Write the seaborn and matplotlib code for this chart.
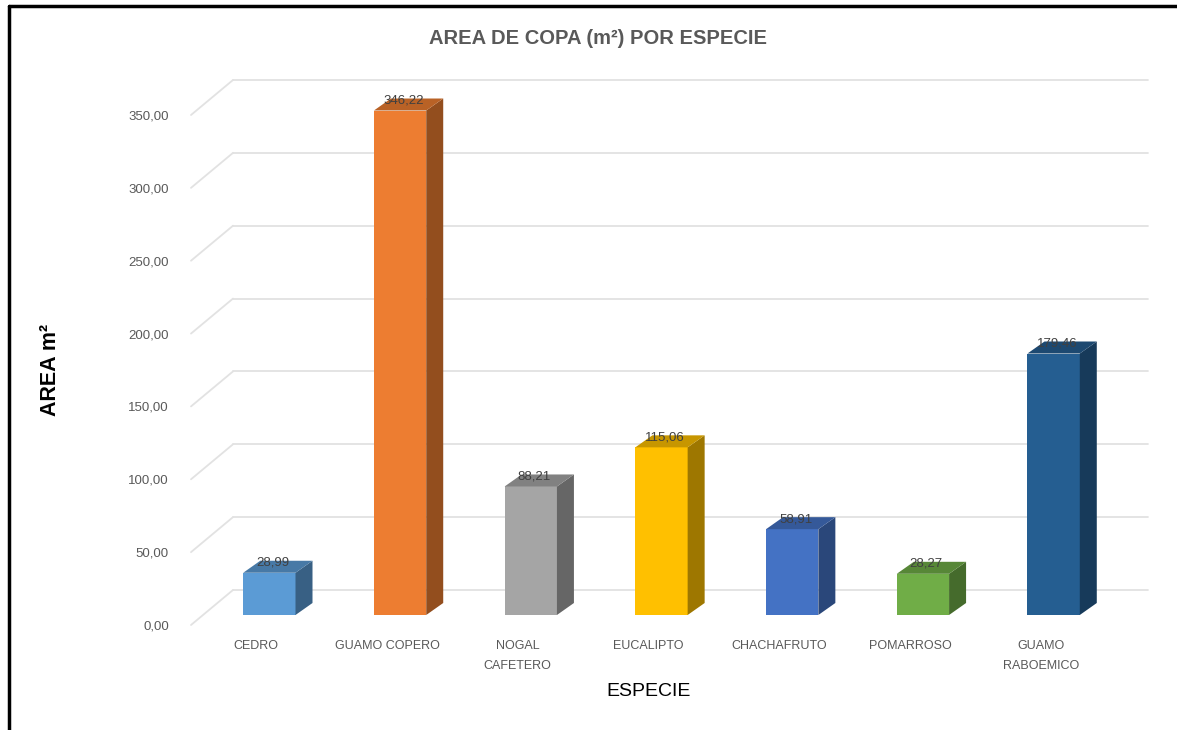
import numpy as np
import pandas as pd
import matplotlib
matplotlib.use("Agg")
import matplotlib.pyplot as plt
import matplotlib.transforms as mtransforms
from matplotlib.patches import Polygon
from matplotlib.colors import to_rgb
import seaborn as sns

# --- data ---
especies = ["CEDRO", "GUAMO COPERO", "NOGAL\nCAFETERO", "EUCALIPTO",
            "CHACHAFRUTO", "POMARROSO", "GUAMO\nRABOEMICO"]
area = [28.99, 346.22, 88.21, 115.06, 58.91, 28.27, 179.46]
colores = ["#5B9BD5", "#ED7D31", "#A5A5A5", "#FFC000",
           "#4472C4", "#70AD47", "#255E91"]
yticks = [0, 50, 100, 150, 200, 250, 300, 350]

df = pd.DataFrame({"especie": especies, "area": area})

sns.set_theme(style="white")
plt.rcParams["font.family"] = ["Liberation Sans", "DejaVu Sans"]

W, H = 1177, 730
fig = plt.figure(figsize=(W / 100, H / 100), dpi=100)
# front (label) plane of the pseudo-3d box, in pixels
left, right, bottom, top = 191, 1106, 625, 115
ax = fig.add_axes([left / W, (H - bottom) / H, (right - left) / W, (bottom - top) / H])
ax.set_xlim(-0.5, 6.5)
ax.set_ylim(0, 350)

# pixel -> data conversion factors
px_x = (right - left) / 7.0
px_y = (bottom - top) / 350.0

# back wall gridlines (offset into depth)
depth_x, depth_y = 42, 35
back = mtransforms.offset_copy(ax.transData, fig=fig, x=depth_x, y=depth_y, units="dots")
grid_c = "#e2e2e2"
for t in yticks:
    ax.plot([-0.5, 6.5], [t, t], color=grid_c, lw=1.3, transform=back, zorder=0, clip_on=False)
    ax.plot([-0.5, -0.5 + depth_x / px_x], [t, t + depth_y / px_y], color=grid_c, lw=1.3,
            zorder=0, clip_on=False)

# bars (front faces), shifted to the middle depth
sns.barplot(data=df, x="especie", y="area", hue="especie", palette=colores,
            width=0.4, legend=False, ax=ax, saturation=1, zorder=2)
bar_tr = mtransforms.offset_copy(ax.transData, fig=fig, x=13, y=10, units="dots")

dx = 17 / px_x
dy = 12 / px_y


def shade(c, f):
    r, g, b = to_rgb(c)
    return (r * f, g * f, b * f)


for p, col, val in zip(ax.patches, colores, area):
    p.set_transform(bar_tr)
    p.set_edgecolor("none")
    p.set_clip_on(False)
    x0 = p.get_x()
    x1 = x0 + p.get_width()
    h = p.get_height()
    side = Polygon([(x1, 0), (x1 + dx, dy), (x1 + dx, h + dy), (x1, h)],
                   closed=True, facecolor=shade(col, 0.62), edgecolor="none",
                   transform=bar_tr, zorder=2, clip_on=False)
    topf = Polygon([(x0, h), (x0 + dx, h + dy), (x1 + dx, h + dy), (x1, h)],
                   closed=True, facecolor=shade(col, 0.78), edgecolor="none",
                   transform=bar_tr, zorder=2, clip_on=False)
    ax.add_patch(side)
    ax.add_patch(topf)
    ax.text((x0 + x1) / 2 + dx * 0.2, h + 4 / px_y, f"{val:.2f}".replace(".", ","),
            ha="center", va="bottom", fontsize=9.5, color="#404040",
            transform=bar_tr, zorder=3)

# axes styling
for s in ax.spines.values():
    s.set_visible(False)
ax.set_yticks(yticks)
ax.set_yticklabels([f"{t:.2f}".replace(".", ",") for t in yticks],
                   fontsize=9.5, color="#595959")
ax.set_xticks(range(len(especies)))
ax.set_xticklabels(especies, fontsize=9, color="#595959", linespacing=1.9)
ax.tick_params(axis="y", length=0, pad=16)
ax.tick_params(axis="x", length=0, pad=11)
ax.set_xlabel("ESPECIE", fontsize=14, color="black", labelpad=8)
ax.set_ylabel("AREA m²", fontsize=15.5, fontweight="bold", color="black", labelpad=48)
ax.grid(False)

fig.text(598 / W, 1 - 38 / H, "AREA DE COPA (m²) POR ESPECIE", ha="center", va="center",
         fontsize=14.5, fontweight="bold", color="#595959")

# chart border (left and top only visible)
fig.add_artist(plt.Line2D([8.5 / W, 8.5 / W], [0, 1 - 6 / H], color="black", lw=2.5,
                          transform=fig.transFigure))
fig.add_artist(plt.Line2D([8.5 / W, 1], [1 - 6 / H, 1 - 6 / H], color="black", lw=2.5,
                          transform=fig.transFigure))

fig.savefig("out.png", dpi=100, facecolor="white")
